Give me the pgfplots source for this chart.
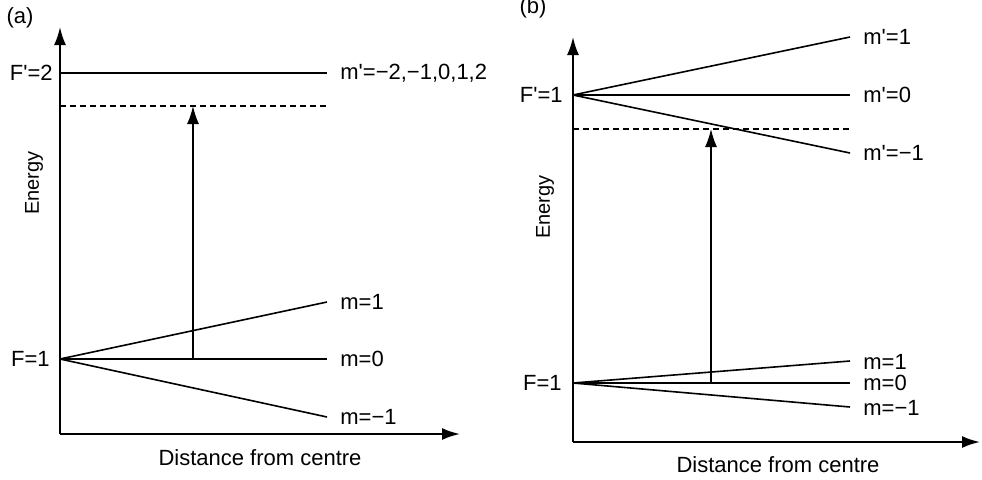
\documentclass[border=0pt]{standalone}
\usepackage{fontspec}
\setmainfont{Liberation Sans}
\usepackage{pgfplots}
\pgfplotsset{compat=1.18}
\usetikzlibrary{arrows.meta}

% 1 px of the reference = 0.5pt, y measured upwards from the bottom edge
\pgfplotsset{
  level/.style={black, line width=0.8pt},
  trans/.style={black, line width=0.8pt, -{Latex[length=9pt,width=6pt]}},
  dashlvl/.style={black, line width=0.8pt, dash pattern=on 3pt off 2pt},
  diag/.style={
    x=0.5pt, y=0.5pt,
    axis lines=left,
    axis line style={line width=1pt, -{Latex[length=9pt,width=6pt]}},
    ticks=none,
    clip=false,
    anchor=south west,
  },
}
\newcommand{\lbl}{\fontsize{11}{13}\selectfont}
\newcommand{\p}{\textquotesingle}
\tikzset{lb/.style={font=\lbl, inner sep=0pt}}

\begin{document}
\begin{tikzpicture}
\path[use as bounding box] (0,0) rectangle (491pt,239.5pt);

% ---------------- (a) ----------------
\begin{axis}[diag, at={(30pt,22.5pt)},
    xmin=60, xmax=460, ymin=45, ymax=452]
\addplot[level] coordinates {(60,406) (327,406)};
\addplot[dashlvl] coordinates {(60,373) (327,373)};
\addplot[level] coordinates {(60,120) (327,177)};
\addplot[level] coordinates {(60,120) (327,120)};
\addplot[level] coordinates {(60,120) (327,62)};
\addplot[trans] coordinates {(193,120) (193,373)};

\node[lb] at (axis cs:20,461) {(a)};
\node[lb, anchor=east] at (axis cs:53,406) {F\p=2};
\node[lb, anchor=east] at (axis cs:50,120) {F=1};
\node[lb, anchor=west] at (axis cs:340,406) {m\p=−2,−1,0,1,2};
\node[lb, anchor=west] at (axis cs:340,177) {m=1};
\node[lb, anchor=west] at (axis cs:340,120) {m=0};
\node[lb, anchor=west] at (axis cs:340,62) {m=−1};
\node[lb, font=\fontsize{10}{12}\selectfont, rotate=90] at (axis cs:34,296) {Energy};
\node[font=\fontsize{11}{13}\selectfont] at (axis cs:260,21) {Distance from centre};
\end{axis}

% ---------------- (b) ----------------
\begin{axis}[diag, at={(286.5pt,18.5pt)},
    xmin=573, xmax=980, ymin=37, ymax=442]
\addplot[level] coordinates {(573,384) (850,442)};
\addplot[level] coordinates {(573,384) (850,384)};
\addplot[level] coordinates {(573,384) (850,326)};
\addplot[dashlvl] coordinates {(573,350) (850,350)};
\addplot[level] coordinates {(573,96) (850,118)};
\addplot[level] coordinates {(573,96) (850,96)};
\addplot[level] coordinates {(573,96) (850,72)};
\addplot[trans] coordinates {(711,96) (711,350)};

\node[lb] at (axis cs:533,471) {(b)};
\node[lb, anchor=east] at (axis cs:563,384) {F\p=1};
\node[lb, anchor=east] at (axis cs:562,96) {F=1};
\node[lb, anchor=west] at (axis cs:863,442) {m\p=1};
\node[lb, anchor=west] at (axis cs:863,384) {m\p=0};
\node[lb, anchor=west] at (axis cs:863,326) {m\p=−1};
\node[lb, anchor=west] at (axis cs:863,117) {m=1};
\node[lb, anchor=west] at (axis cs:863,96) {m=0};
\node[lb, anchor=west] at (axis cs:863,71) {m=−1};
\node[lb, font=\fontsize{10}{12}\selectfont, rotate=90] at (axis cs:545,272) {Energy};
\node[font=\fontsize{11}{13}\selectfont] at (axis cs:778,14) {Distance from centre};
\end{axis}
\end{tikzpicture}
\end{document}
